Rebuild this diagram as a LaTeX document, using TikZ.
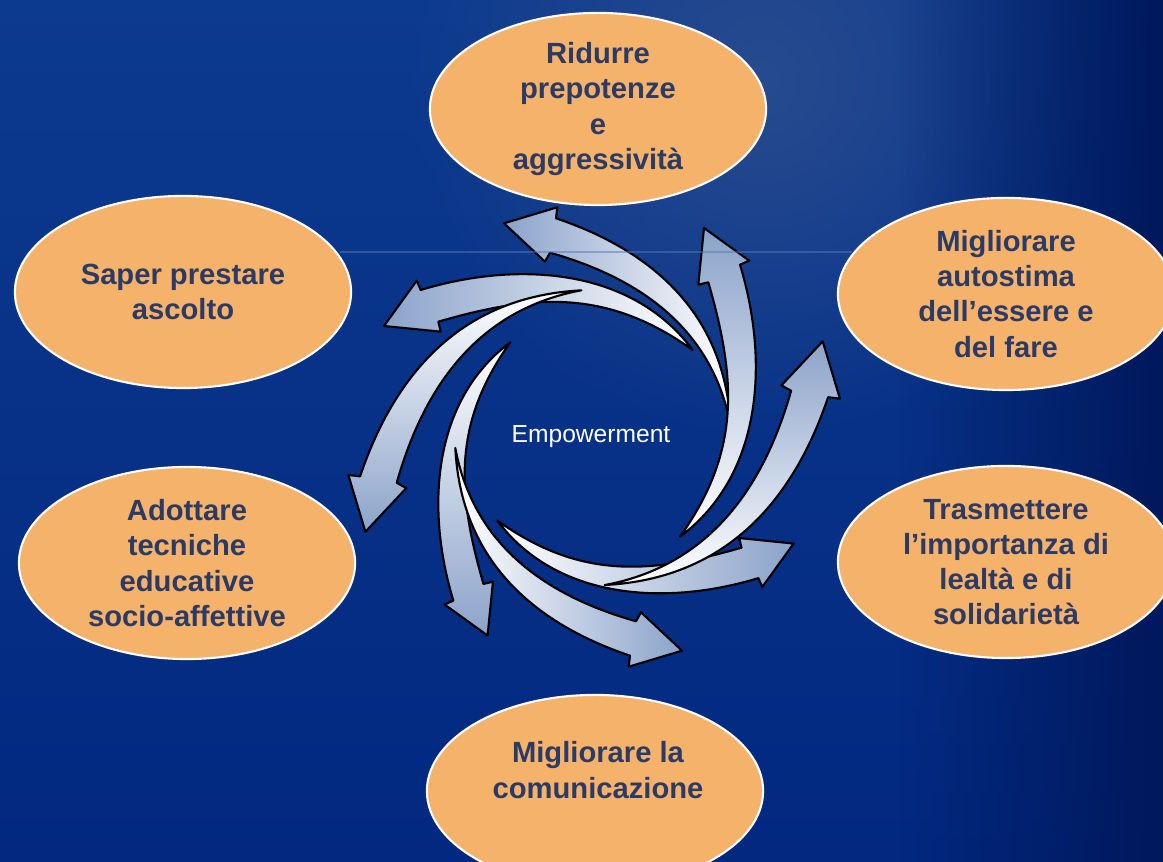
\documentclass[tikz,border=0pt]{standalone}
\usepackage{fontspec}
\setmainfont{Liberation Sans}
\usetikzlibrary{shapes.geometric,fadings}

\definecolor{bgtop}{HTML}{0C3A8E}
\definecolor{bgbottom}{HTML}{022880}
\definecolor{bgglow}{HTML}{284B8F}
\definecolor{bgdark}{HTML}{00185C}
\definecolor{bubblefill}{HTML}{F4B26B}
\definecolor{bubbletext}{HTML}{2C3A66}
\definecolor{arrowblue}{HTML}{8BA3CA}
\definecolor{streak}{HTML}{5677B8}

\tikzfading[name=glowfade, inner color=transparent!0, outer color=transparent!100]

\tikzset{
  bubble/.style={ellipse, draw=white, line width=0.6pt, fill=bubblefill,
    minimum width=3.36cm, minimum height=1.92cm, inner sep=0pt,
    align=center, text=bubbletext,
    font=\fontsize{8.3}{10}\selectfont\bfseries},
  bubbletxt/.style={align=center, text=bubbletext,
    font=\fontsize{8.3}{10}\selectfont\bfseries},
  swirl/.style={draw=black, line width=0.6pt, line join=round,
    top color=arrowblue, bottom color=white},
}

\begin{document}
\begin{tikzpicture}[x=0.01cm, y=-0.01cm]
  \useasboundingbox (0,0) rectangle (1163,862);
  \clip (0,0) rectangle (1163,862);

  % background
  \path[top color=bgtop, bottom color=bgbottom] (0,0) rectangle (1163,862);
  \fill[bgglow, path fading=glowfade] (760,80) circle (360);
  \fill[bgdark, path fading=west] (900,0) rectangle (1163,862);

  % the six bubbles
  \node[bubble] (ridurre) at (598,109)
    {Ridurre\\prepotenze\\e\\aggressività};
  \node[bubble] (saper) at (183,292) {Saper prestare\\ascolto};
  \node[bubble] (autostima) at (1006,294)
    {Migliorare\\autostima\\dell’essere e\\del fare};
  \node[bubble] (adottare) at (187,563)
    {Adottare\\tecniche\\educative\\socio-affettive};
  \node[bubble] (trasmettere) at (1006,562)
    {Trasmettere\\l’importanza di\\lealtà e di\\solidarietà};
  \node[bubble] (comunicazione) at (595,791) {};
  \node[bubbletxt] (comunicazionetxt) at (598,770)
    {Migliorare la\\comunicazione};

  % swirl of arrows, two per quarter turn
  \begin{scope}[shift={(593,437)}]
    \foreach \a/\sa/\sb in {0/1/1, 90/1.065/0.95, 180/1/0.96, 270/1.075/1}{
      \begin{scope}[rotate=\a]
        \path[swirl, scale=\sa, shading angle=90+\a]
          (137.7,-11) .. controls (132,-121) and (62.7,-185) .. (-37,-218.7)
          -- (-35.7,-229.7) -- (-89,-213.7) -- (-48,-175.3) -- (-43,-184.3)
          .. controls (50,-158) and (120,-106) .. cycle;
        \path[swirl, scale=\sb, shading angle=90+\a]
          (99.7,-87) .. controls (38.7,-169) and (-74.7,-176.6) .. (-172.3,-147)
          -- (-176.3,-156.3) -- (-209,-111) -- (-152.3,-105.3) -- (-154.7,-115.3)
          .. controls (-56,-144) and (15.7,-147) .. cycle;
      \end{scope}
    }
  \end{scope}

  \draw[streak, line width=0.35pt, opacity=0.5] (340,252) -- (852,252);

  \node[text=white, font=\fontsize{7}{8}\selectfont] (empowerment) at (591,437)
    {Empowerment};
\end{tikzpicture}
\end{document}
